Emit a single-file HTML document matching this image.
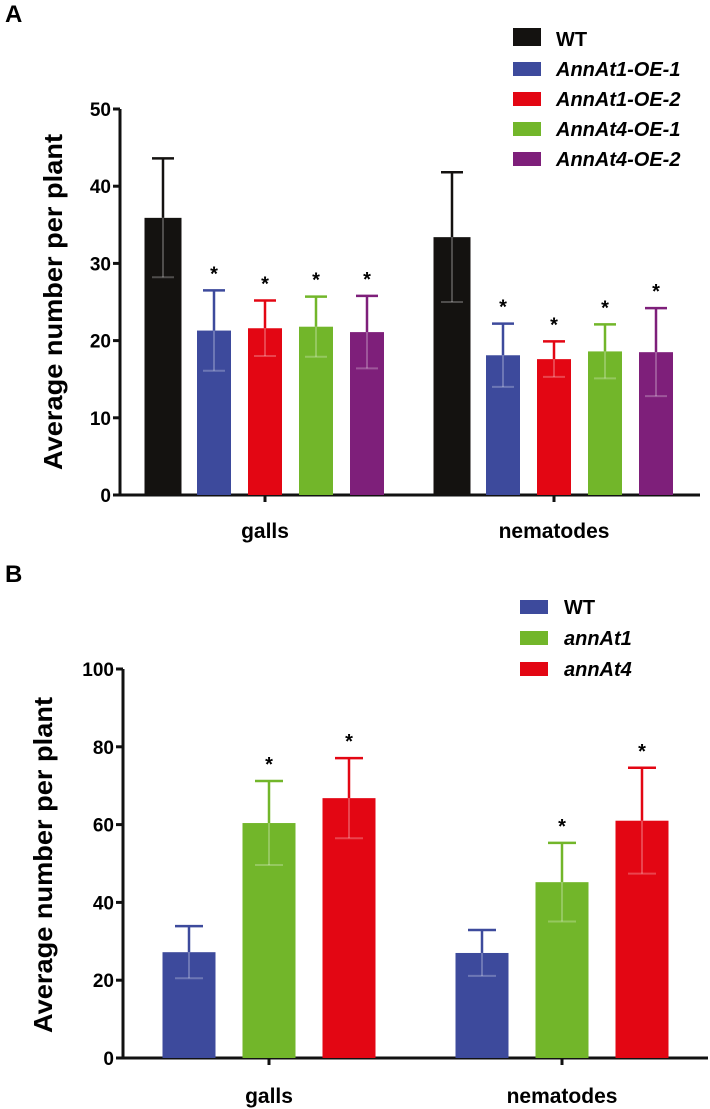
<!DOCTYPE html>
<html><head><meta charset="utf-8"><style>
html,body{margin:0;padding:0;background:#fff;width:710px;height:1109px;overflow:hidden}
svg{display:block;font-family:"Liberation Sans",Arial,sans-serif}
</style></head><body>
<svg id="fig" width="710" height="1109"></svg>
<script>
// Panel A data
const catsA = ["galls", "nematodes"];
const seriesA = ["WT", "AnnAt1-OE-1", "AnnAt1-OE-2", "AnnAt4-OE-1", "AnnAt4-OE-2"];
const meanA_galls = [35.9, 21.3, 21.6, 21.8, 21.1];
const errA_galls = [7.7, 5.2, 3.6, 3.9, 4.7];
const meanA_nem = [33.4, 18.1, 17.6, 18.6, 18.5];
const errA_nem = [8.4, 4.1, 2.3, 3.5, 5.7];
const sigA_galls = [false, true, true, true, true];
const sigA_nem = [false, true, true, true, true];
const ticksA = [0, 10, 20, 30, 40, 50];
// Panel B data
const catsB = ["galls", "nematodes"];
const seriesB = ["WT", "annAt1", "annAt4"];
const meanB_galls = [27.2, 60.4, 66.8];
const errB_galls = [6.7, 10.8, 10.3];
const meanB_nem = [27.0, 45.2, 61.0];
const errB_nem = [5.9, 10.1, 13.6];
const sigB_galls = [false, true, true];
const sigB_nem = [false, true, true];
const ticksB = [0, 20, 40, 60, 80, 100];

const colorsA = ["#141210", "#3d4a9c", "#e30613", "#72b62a", "#7e1f7a"];
const colorsB = ["#3d4a9c", "#72b62a", "#e30613"];
const NS = "http://www.w3.org/2000/svg";
const svg = document.getElementById("fig");
function el(tag, attrs, parent, text) {
  const e = document.createElementNS(NS, tag);
  for (const k in attrs) e.setAttribute(k, attrs[k]);
  if (text !== undefined) e.textContent = text;
  (parent || svg).appendChild(e);
  return e;
}

function panel(cfg) {
  const g = el("g", {});
  
  
  const y = v => cfg.y0 - (v - cfg.vmin) / (cfg.vmax - cfg.vmin) * (cfg.y0 - cfg.y1);
  const t = el("text", {x: 5, y: cfg.letterY, "font-size": 24, "font-weight": "bold"}, g, cfg.letter);
  
  
  const ax = el("line", {x1: cfg.ax, x2: cfg.ax, y1: y(cfg.vmax), y2: cfg.y0 + 1.5, stroke: "#111", "stroke-width": 3}, g);
  
  
  cfg.ticks.forEach(v => {
    el("line", {x1: cfg.ax - 7, x2: cfg.ax, y1: y(v), y2: y(v), stroke: "#111", "stroke-width": 3}, g);
    const tl = el("text", {x: cfg.ax - 9, y: y(v) + 7, "font-size": 19, "font-weight": "bold", "text-anchor": "end"}, g, v);
    
    
  });
  const yt = el("text", {transform: `translate(${cfg.titleX},${cfg.titleY}) rotate(-90)`, "font-size": 26, "font-weight": "bold", "text-anchor": "middle", textLength: 336, lengthAdjust: "spacingAndGlyphs"}, g, "Average number per plant");
  
  
  const xa = el("line", {x1: cfg.ax - 1.5, x2: cfg.xEnd, y1: cfg.y0, y2: cfg.y0, stroke: "#111", "stroke-width": 3}, g);
  
  
  cfg.cats.forEach((c, ci) => {
    const cx = cfg.centers[ci];
    el("line", {x1: cx, x2: cx, y1: cfg.y0, y2: cfg.y0 + 7, stroke: "#111", "stroke-width": 3}, g);
    const xl = el("text", {x: cx, y: cfg.xlabY, "font-size": 21, "font-weight": "bold", "text-anchor": "middle"}, g, c);
    
    
    const means = cfg.means[ci], errs = cfg.errs[ci], sig = cfg.sigs[ci];
    const n = means.length;
    means.forEach((m, i) => {
      const bx = cx + (i - (n - 1) / 2) * cfg.step;
      const w = (i === 0 && cfg.wideFirst) ? cfg.bw + 3 : cfg.bw;
      const col = cfg.colors[i];
      const r = el("rect", {x: bx - w / 2, y: y(m), width: w, height: cfg.y0 - y(m), fill: col}, g);
      
      
      const top = y(m + errs[i]), bot = y(Math.max(0, m - errs[i]));
      el("line", {x1: bx, x2: bx, y1: y(m), y2: bot, stroke: "#fff", "stroke-opacity": 0.25, "stroke-width": 2}, g);
      el("line", {x1: bx - cfg.cap, x2: bx + cfg.cap, y1: bot, y2: bot, stroke: "#fff", "stroke-opacity": 0.25, "stroke-width": 2}, g);
      const eb = el("line", {x1: bx, x2: bx, y1: top, y2: y(m), stroke: col, "stroke-width": 2.5}, g);
      
      
      el("line", {x1: bx - cfg.cap, x2: bx + cfg.cap, y1: top, y2: top, stroke: col, "stroke-width": 2.5}, g);
      if (sig[i]) {
        const s = el("text", {x: bx, y: top - 10, "font-size": 20, "font-weight": "bold", "text-anchor": "middle"}, g, "*");
        
        
      }
    });
  });
  cfg.series.forEach((s, i) => {
    const ly = cfg.legY + i * cfg.legStep;
    const big = (i === 0 && cfg.wideFirst);
    const sw = el("rect", {x: cfg.legX, y: big ? ly - 4 : ly, width: cfg.swW, height: big ? 18 : 14, fill: cfg.colors[i]}, g);
    
    
    const lt = el("text", {x: cfg.legX + cfg.swW + cfg.legGap, y: ly + 14, "font-size": 20, "font-weight": "bold", "font-style": s === "WT" ? "normal" : "italic"}, g, s);
    
    
  });
}

panel({name: "panel-a", letter: "A", letterY: 22, ax: 120, xEnd: 700, y0: 495, y1: 109, vmin: 0, vmax: 50,
  ticks: ticksA, cats: catsA, centers: [265, 554], step: 51, bw: 34, cap: 11, wideFirst: true,
  means: [meanA_galls, meanA_nem], errs: [errA_galls, errA_nem], sigs: [sigA_galls, sigA_nem],
  colors: colorsA, series: seriesA, titleX: 62, titleY: 302, xlabY: 538,
  legX: 513, legY: 32, legStep: 30, swW: 28, legGap: 15});
panel({name: "panel-b", letter: "B", letterY: 582, ax: 123, xEnd: 708, y0: 1058, y1: 669, vmin: 0, vmax: 100,
  ticks: ticksB, cats: catsB, centers: [269, 562], step: 80, bw: 53, cap: 14, wideFirst: false,
  means: [meanB_galls, meanB_nem], errs: [errB_galls, errB_nem], sigs: [sigB_galls, sigB_nem],
  colors: colorsB, series: seriesB, titleX: 52, titleY: 865, xlabY: 1103,
  legX: 520, legY: 600, legStep: 31, swW: 28, legGap: 16});
</script>
</body></html>
